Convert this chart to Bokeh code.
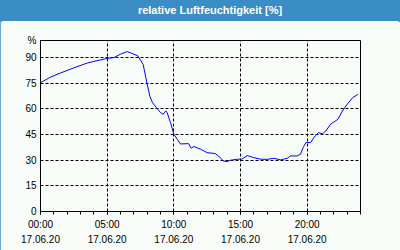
from bokeh.plotting import figure
from bokeh.models import FixedTicker, LinearAxis, Range1d, Div
from bokeh.layouts import column
from bokeh.embed import file_html
from bokeh.resources import INLINE

title_text = "relative Luftfeuchtigkeit [%]"
hours = [0, 0.75, 1.5, 2.5, 3.5, 4.0, 5.0, 5.5, 6.0, 6.5, 6.75, 7.3, 7.7, 8.0, 8.2, 8.4,
         8.7, 9.0, 9.2, 9.4, 9.5, 9.75, 10.0, 10.25, 10.5, 11.1, 11.3, 11.5, 12.0, 12.5,
         13.1, 13.35, 13.7, 14.0, 14.25, 14.8, 15.1, 15.5, 16.0, 16.5, 17.0, 17.5, 18.0,
         18.5, 18.75, 19.25, 19.5, 19.7, 19.9, 20.25, 20.6, 20.85, 21.15, 21.4, 21.75,
         22.3, 22.65, 23.0, 23.4, 23.8]
humidity = [75.3, 78.6, 81.0, 84.0, 86.8, 87.8, 89.5, 90.0, 92.0, 93.5, 92.8, 91.0, 86.0,
            74.5, 67.5, 63.6, 60.7, 57.8, 56.9, 58.8, 57.8, 52.0, 45.2, 42.3, 39.5, 39.7,
            37.0, 38.0, 36.5, 34.4, 33.9, 32.5, 29.6, 29.2, 30.0, 30.6, 30.6, 32.7, 31.5,
            30.6, 30.5, 31.1, 30.2, 31.1, 32.5, 32.5, 33.5, 37.4, 40.3, 40.3, 44.2, 46.1,
            45.5, 47.1, 51.0, 53.9, 58.8, 62.7, 66.5, 68.5]
x_ticks = [0, 5, 10, 15, 20]
x_time_labels = ["00:00", "05:00", "10:00", "15:00", "20:00"]
x_date_labels = ["17.06.20"] * 5
y_ticks = [0, 15, 30, 45, 60, 75, 90, 100]
y_labels = ["0", "15", "30", "45", "60", "75", "90", "%"]

BLUE = "#3b8dc5"
BG = "#f8fcf8"
FONT = "Liberation Sans"

p = figure(width=400, height=229, output_backend="svg", toolbar_location=None,
           x_range=Range1d(0, 24), y_range=Range1d(0, 100),
           x_axis_location=None, y_axis_location=None,
           min_border_left=40, min_border_right=40, min_border_top=19, min_border_bottom=39)
p.border_fill_color = BG
p.background_fill_color = BG
p.outline_line_color = "black"
p.outline_line_width = 1

# axes
xa = LinearAxis(ticker=FixedTicker(ticks=x_ticks, minor_ticks=list(range(25))),
                major_label_overrides={t: l for t, l in zip(x_ticks, x_time_labels)})
xa.major_tick_out = 3
xa.major_tick_in = 0
xa.minor_tick_out = 3
xa.minor_tick_in = 0
xa.axis_line_color = "black"
xa.major_tick_line_color = "black"
xa.minor_tick_line_color = "black"
xa.major_label_text_font = FONT
xa.major_label_text_font_size = "10px"
xa.major_label_text_color = "#000"
xa.major_label_standoff = 4
p.add_layout(xa, "below")

xa2 = LinearAxis(ticker=FixedTicker(ticks=x_ticks, minor_ticks=[]),
                 major_label_overrides={t: l for t, l in zip(x_ticks, x_date_labels)})
xa2.axis_line_color = None
xa2.major_tick_line_color = None
xa2.minor_tick_line_color = None
xa2.major_tick_out = 0
xa2.major_tick_in = 0
xa2.major_label_text_font = FONT
xa2.major_label_text_font_size = "10px"
xa2.major_label_text_color = "#000"
xa2.major_label_standoff = 2
p.add_layout(xa2, "below")

ya = LinearAxis(ticker=FixedTicker(ticks=y_ticks, minor_ticks=[]),
                major_label_overrides={t: l for t, l in zip(y_ticks, y_labels)})
ya.major_tick_out = 0
ya.major_tick_in = 0
ya.axis_line_color = "black"
ya.major_label_text_font = FONT
ya.major_label_text_font_size = "10px"
ya.major_label_text_color = "#000"
ya.major_label_standoff = 4
p.add_layout(ya, "left")

p.xgrid.ticker = FixedTicker(ticks=[5, 10, 15, 20])
p.ygrid.ticker = FixedTicker(ticks=[15, 30, 45, 60, 75, 90])
for g in (p.xgrid, p.ygrid):
    g.grid_line_color = "black"
    g.grid_line_dash = "3 2"
    g.grid_line_width = 1

p.line(hours, humidity, line_color="#0000ff", line_width=1)

title = Div(text=f'<span style="position:relative;left:10px">{title_text}</span>',
            width=400, height=21,
            styles={"background-color": BLUE, "color": "white", "font-family": FONT,
                    "font-weight": "bold", "font-size": "11px", "text-align": "center",
                    "line-height": "21px", "margin": "0", "padding": "0"})

layout = column(title, p, spacing=0,
                styles={"outline": f"2px solid {BLUE}", "outline-offset": "-2px"})

open("out.html", "w").write(file_html(layout, INLINE))
